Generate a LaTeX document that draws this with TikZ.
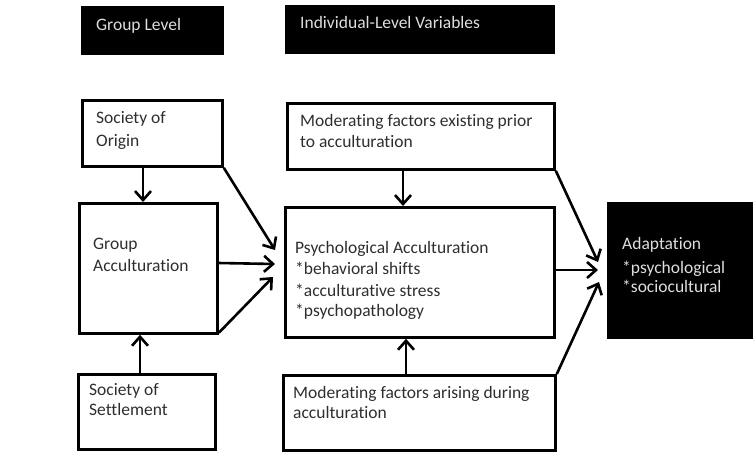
\documentclass[tikz,border=0pt]{standalone}
\usepackage{fontspec}
\setmainfont{Carlito}[Ligatures=NoCommon]
\usetikzlibrary{calc,arrows.meta}
\begin{document}
\begin{tikzpicture}[x=1pt,y=-1pt,
  box/.style={draw=black,line width=2.8pt,inner sep=0pt,anchor=north west},
  dark/.style={box,fill=black},
  txt/.style={anchor=base west,inner sep=0pt,font=\fontsize{17.5}{20}\selectfont,text=black!82},
  wtxt/.style={txt,text=black!13},
  arr/.style={line width=2.6pt,-{Straight Barb[length=9pt,width=16pt,line width=2.6pt]}}]
\useasboundingbox (0,0) rectangle (753,459);
% boxes
\node[dark,minimum width=140pt,minimum height=46pt] (gl) at (81,6) {};
\node[dark,minimum width=267pt,minimum height=46pt] (il) at (285,5) {};
\node[box,minimum width=140pt,minimum height=66pt] (soo) at (81,99) {};
\node[box,minimum width=267pt,minimum height=66pt] (mp) at (286,102) {};
\node[box,minimum width=138pt,minimum height=130pt] (ga) at (78,202) {};
\node[box,minimum width=269pt,minimum height=130pt] (pa) at (284,206) {};
\node[box,minimum width=137pt,minimum height=75pt] (sos) at (77,373) {};
\node[box,minimum width=272pt,minimum height=75pt] (ma) at (282,374) {};
\node[dark,minimum width=144pt,minimum height=134pt] (ad) at (607,202) {};
% texts
\node[wtxt] (t1) at (96,30) {Group Level};
\node[wtxt] (t2) at (300,28) {Individual-Level Variables};
\node[txt] (t3) at (96,123) {Society of};
\node[txt] (t4) at (96,146) {Origin};
\node[txt] (t5) at (300,126) {Moderating factors existing prior};
\node[txt] (t6) at (300,147) {to acculturation};
\node[txt] (t7) at (93,249) {Group};
\node[txt] (t8) at (93,271) {Acculturation};
\node[txt] (t9) at (295,253) {Psychological Acculturation};
\node[txt] (t10) at (295,274) {*behavioral shifts};
\node[txt] (t11) at (295,296) {*acculturative stress};
\node[txt] (t12) at (295,316) {*psychopathology};
\node[txt] (t13) at (89,395) {Society of};
\node[txt] (t14) at (89,415) {Settlement};
\node[txt] (t15) at (293,398) {Moderating factors arising during};
\node[txt] (t16) at (293,418) {acculturation};
\node[wtxt] (t17) at (622,249) {Adaptation};
\node[wtxt] (t18) at (622,273) {*psychological};
\node[wtxt] (t19) at (622,292) {*sociocultural};
% connectors
\draw[arr] (soo.south west) ++(62,0) coordinate (a1) -- (a1 |- ga.north);
\draw[arr] (soo.south east) -- ($(pa.north west)+(-9,44)$);
\draw[arr] ($(ga.north east)+(0,61)$) -- ($(pa.north west)+(-9,58)$);
\draw[arr] ($(ga.south east)+(0,-2)$) -- ($(pa.north west)+(-11,71)$);
\draw[arr] (sos.north west) ++(63,0) coordinate (a2) -- (a2 |- ga.south);
\draw[arr] (mp.south west) ++(117,0) coordinate (a3) -- (a3 |- pa.north);
\draw[arr] (mp.south east) -- ($(ad.north west)+(-9,60)$);
\draw[arr] ($(pa.north east)+(0,64)$) -- ($(ad.north west)+(-9,68)$);
\draw[arr] (ma.north west) ++(124,0) coordinate (a4) -- (a4 |- pa.south);
\draw[arr] (ma.north east) -- ($(ad.north west)+(-8,80)$);
\end{tikzpicture}
\end{document}
